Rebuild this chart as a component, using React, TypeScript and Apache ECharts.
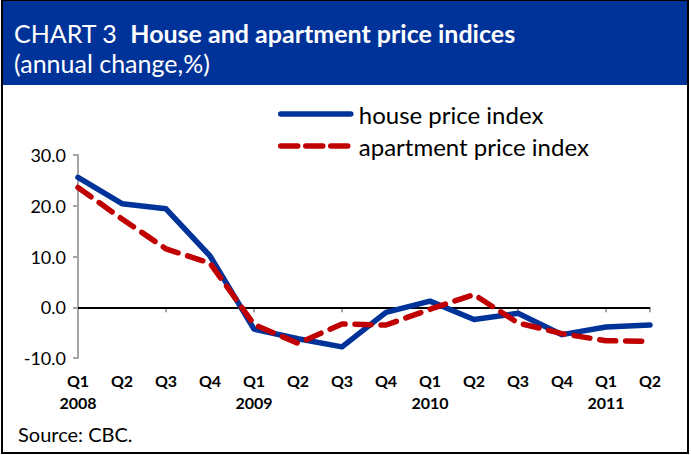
import React, { useEffect, useRef } from "react";
import * as echarts from "echarts";

const quarters = ["Q1", "Q2", "Q3", "Q4", "Q1", "Q2", "Q3", "Q4", "Q1", "Q2", "Q3", "Q4", "Q1", "Q2"];
const years = ["2008", "", "", "", "2009", "", "", "", "2010", "", "", "", "2011", ""];
const housePrice = [25.6, 20.4, 19.4, 10.1, -4.3, -6.2, -7.8, -1.0, 1.2, -2.4, -1.2, -5.4, -3.9, -3.5];
const apartmentPrice = [23.6, 17.4, 11.5, 8.7, -3.4, -7.1, -3.3, -3.5, -0.4, 2.5, -3.1, -5.2, -6.6, -6.7];
const yTicks = [-10, 0, 10, 20, 30];

const FONT = "Lato";

export default function App() {
  const ref = useRef<HTMLDivElement>(null);
  useEffect(() => {
    if (!ref.current) return;
    const chart = echarts.init(ref.current, undefined, { renderer: "svg" });
    const cats = quarters.map((q, i) => q + "|" + years[i]);
    chart.setOption({
      animation: false,
      backgroundColor: "#ffffff",
      textStyle: { fontFamily: FONT },
      grid: { left: 78, right: 41, top: 155, bottom: 97, containLabel: false },
      legend: {
        orient: "vertical",
        left: 273,
        top: 97,
        itemWidth: 70,
        itemHeight: 20,
        itemGap: 8,
        itemStyle: { opacity: 0 },
        textStyle: { fontFamily: FONT, fontSize: 24, color: "#000", padding: [0, 0, 0, 3] },
        data: [
          { name: "house price index", lineStyle: { width: 5.5, cap: "round" } },
          { name: "apartment price index", lineStyle: { width: 5.5, type: [17, 8], cap: "round" } },
        ],
      },
      xAxis: {
        type: "category",
        data: cats,
        boundaryGap: false,
        axisLine: { lineStyle: { color: "#a6a6a6", width: 2 } },
        axisTick: { interval: 1, length: 5, lineStyle: { color: "#a6a6a6", width: 2 } },
        axisLabel: {
          interval: 0,
          margin: 11,
          formatter: (v: string) => {
            const [q, y] = v.split("|");
            return y ? `{q|${q}}\n{y|${y}}` : `{q|${q}}`;
          },
          rich: {
            q: { fontFamily: FONT, fontSize: 16, fontWeight: "bold", color: "#000", lineHeight: 22 },
            y: { fontFamily: FONT, fontSize: 16, fontWeight: "bold", color: "#000", lineHeight: 22 },
          },
          verticalAlign: "top",
        },
        splitLine: { show: false },
      },
      yAxis: {
        type: "value",
        min: yTicks[0],
        max: yTicks[yTicks.length - 1],
        interval: 10,
        axisLine: { show: true, lineStyle: { color: "#a6a6a6", width: 2 } },
        axisTick: { show: true, length: 5, lineStyle: { color: "#a6a6a6", width: 2 } },
        axisLabel: {
          margin: 12,
          fontFamily: FONT,
          fontSize: 18,
          color: "#000",
          formatter: (v: number) => v.toFixed(1),
        },
        splitLine: { show: false },
      },
      series: [
        {
          name: "house price index",
          type: "line",
          data: housePrice,
          symbol: "none",
          color: "#003399",
          lineStyle: { color: "#003399", width: 5.5, cap: "round", join: "round" },
          z: 3,
          markLine: {
            silent: true,
            symbol: "none",
            label: { show: false },
            lineStyle: { color: "#000", width: 2, type: "solid" },
            data: [{ yAxis: 0 }],
            z: 1,
          },
        },
        {
          name: "apartment price index",
          type: "line",
          data: apartmentPrice,
          symbol: "none",
          color: "#c00000",
          lineStyle: { color: "#c00000", width: 5.5, type: [16, 10], cap: "round", join: "round" },
          z: 4,
        },
      ],
      graphic: [
        { type: "rect", shape: { x: 2, y: 0, width: 686, height: 85 }, style: { fill: "#003399" }, z: 10 },
        {
          type: "rect",
          shape: { x: 2, y: 0, width: 686, height: 453 },
          style: { fill: "none", stroke: "#000", lineWidth: 2 },
          z: 11,
        },
        {
          type: "text",
          x: 14,
          y: 33,
          z: 12,
          style: {
            text: "{a|CHART 3  }{b|House and apartment price indices}",
            verticalAlign: "middle",
            rich: {
              a: { fontFamily: FONT, fontSize: 25, color: "#fff", fill: "#fff" },
              b: { fontFamily: FONT, fontSize: 25, fontWeight: "bold", color: "#fff", fill: "#fff" },
            },
            fill: "#fff",
          },
        },
        {
          type: "text",
          x: 14,
          y: 63,
          z: 12,
          style: {
            text: "(annual change,%)",
            fontFamily: FONT,
            fontSize: 25,
            fill: "#fff",
            verticalAlign: "middle",
          },
        },
        {
          type: "text",
          x: 18,
          y: 434,
          z: 12,
          style: {
            text: "Source: CBC.",
            fontFamily: FONT,
            fontSize: 20,
            fill: "#000",
            verticalAlign: "middle",
          },
        },
      ],
    });
    return () => chart.dispose();
  }, []);
  return (
    <div
      ref={ref}
      style={{ position: "fixed", left: 0, top: 0, width: 691, height: 455 }}
    />
  );
}
